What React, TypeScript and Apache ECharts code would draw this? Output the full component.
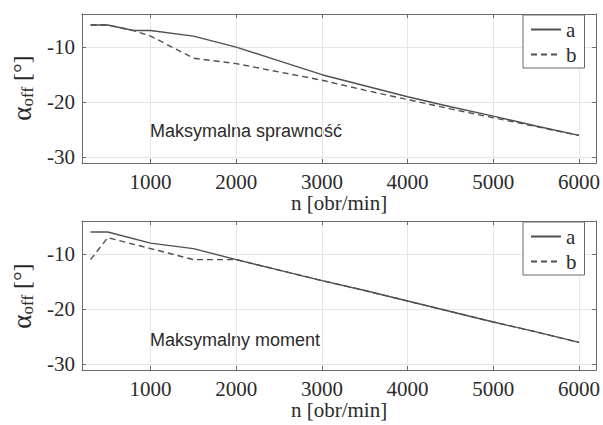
import React, { useEffect, useRef } from "react";
import * as echarts from "echarts";

const topN = [300, 500, 800, 1000, 1500, 2000, 2500, 3000, 3500, 4000, 4500, 5000, 5500, 6000];
const topA = [-6, -6, -7, -7, -8, -10, -12.5, -15, -17, -19, -20.8, -22.5, -24.3, -26];
const topB = [-6, -6, -7, -8, -12, -13, -14.5, -16, -17.8, -19.5, -21.2, -22.8, -24.4, -26];

const botN = [300, 500, 1000, 1500, 2000, 2500, 3000, 3500, 4000, 4500, 5000, 5500, 6000];
const botA = [-6, -6, -8, -9, -11, -12.9, -14.8, -16.6, -18.5, -20.4, -22.3, -24.1, -26];
const botB = [-11, -7, -9, -11, -11, -12.9, -14.8, -16.6, -18.5, -20.4, -22.3, -24.1, -26];

const xTicks = [1000, 2000, 3000, 4000, 5000, 6000];
const yTicks = [-30, -20, -10];
const seriesNames = ["a", "b"];
const xName = "n [obr/min]";
const panelTexts = ["Maksymalna sprawność", "Maksymalny moment"];

const SERIF = "'Liberation Serif', 'Times New Roman', serif";
const SANS = "'Liberation Sans', Arial, sans-serif";
const TXT = "#2b2b2b";
const FRAME = "#6a6a6a";
const GRIDC = "#e6e6e6";
const LINEC = "#505050";

const pair = (xs: number[], ys: number[]) => xs.map((x, i) => [x, ys[i]]);
const plain = (v: number) => String(v);

export default function App() {
  const ref = useRef<HTMLDivElement>(null);
  useEffect(() => {
    if (!ref.current) return;
    const chart = echarts.init(ref.current, null, { renderer: "svg" });
    const grids = [
      { left: 82, top: 14, width: 517, height: 149 },
      { left: 82, top: 221, width: 517, height: 149 },
    ];
    const xAxes: any[] = [];
    const yAxes: any[] = [];
    grids.forEach((_, gi) => {
      xAxes.push({
        type: "value",
        gridIndex: gi,
        min: 200,
        max: 6200,
        position: "bottom",
        name: xName,
        nameLocation: "middle",
        nameGap: 28,
        nameTextStyle: { fontFamily: SERIF, fontSize: 21, color: TXT },
        axisLine: { show: true, onZero: false, lineStyle: { color: FRAME, width: 1 } },
        axisTick: { show: true, inside: true, length: 4, customValues: xTicks, lineStyle: { color: FRAME } },
        axisLabel: { customValues: xTicks, formatter: plain, fontFamily: SERIF, fontSize: 21, color: TXT, margin: 8 },
        splitLine: { show: true, lineStyle: { color: GRIDC, width: 1 } },
      });
      xAxes.push({
        type: "value",
        gridIndex: gi,
        min: 200,
        max: 6200,
        position: "top",
        axisLine: { show: true, onZero: false, lineStyle: { color: FRAME, width: 1 } },
        axisTick: { show: true, inside: true, length: 4, customValues: xTicks, lineStyle: { color: FRAME } },
        axisLabel: { show: false },
        splitLine: { show: false },
      });
      yAxes.push({
        type: "value",
        gridIndex: gi,
        min: -31,
        max: -4,
        position: "left",
        axisLine: { show: true, onZero: false, lineStyle: { color: FRAME, width: 1 } },
        axisTick: { show: true, inside: true, length: 4, customValues: yTicks, lineStyle: { color: FRAME } },
        axisLabel: { customValues: yTicks, formatter: plain, fontFamily: SERIF, fontSize: 21, color: TXT, margin: 7 },
        splitLine: { show: true, lineStyle: { color: GRIDC, width: 1 } },
      });
      yAxes.push({
        type: "value",
        gridIndex: gi,
        min: -31,
        max: -4,
        position: "right",
        axisLine: { show: true, onZero: false, lineStyle: { color: FRAME, width: 1 } },
        axisTick: { show: true, inside: true, length: 4, customValues: yTicks, lineStyle: { color: FRAME } },
        axisLabel: { show: false },
        splitLine: { show: false },
      });
    });

    const mk = (name: string, data: number[][], gi: number, dashed: boolean) => ({
      type: "line",
      name,
      xAxisIndex: gi * 2,
      yAxisIndex: gi * 2,
      data,
      symbol: "none",
      showSymbol: false,
      z: dashed ? 3 : 2,
      lineStyle: { color: LINEC, width: 1.4, type: dashed ? [6, 4] : "solid" },
      itemStyle: { color: LINEC },
    });

    const legendBase = (top: number) => ({
      orient: "vertical",
      left: 523,
      top,
      data: seriesNames,
      itemWidth: 30,
      itemHeight: 14,
      itemGap: 4,
      padding: [4, 8, 3, 7],
      borderColor: FRAME,
      borderWidth: 1,
      backgroundColor: "#ffffff",
      itemStyle: { opacity: 0, borderWidth: 0 },
      textStyle: { fontFamily: SERIF, fontSize: 21, lineHeight: 20, color: TXT, padding: [0, 0, 0, 0] },
      selectedMode: false,
    });

    const yLabel = (cy: number) => ({
      type: "text",
      x: 22,
      y: cy,
      rotation: Math.PI / 2,
      style: {
        text: "{a|α}{s|off} [°]",
        fontFamily: SERIF,
        fontSize: 24,
        fill: TXT,
        align: "center",
        verticalAlign: "middle",
        rich: {
          a: { fontFamily: SERIF, fontSize: 27, fill: TXT, lineHeight: 28 },
          s: { fontFamily: SERIF, fontSize: 17, fill: TXT, verticalAlign: "bottom", lineHeight: 16 },
        },
      },
    });

    chart.setOption({
      animation: false,
      backgroundColor: "#ffffff",
      grid: grids.map((g) => ({ ...g, show: false })),
      xAxis: xAxes,
      yAxis: yAxes,
      legend: [legendBase(15), legendBase(222)],
      series: [
        mk(seriesNames[0], pair(topN, topA), 0, false),
        mk(seriesNames[1], pair(topN, topB), 0, true),
        mk(seriesNames[0], pair(botN, botA), 1, false),
        mk(seriesNames[1], pair(botN, botB), 1, true),
      ],
      graphic: [
        yLabel(88),
        yLabel(296),
        {
          type: "text",
          x: 150,
          y: 140,
          style: { text: panelTexts[0], fontFamily: SANS, fontSize: 18, fill: TXT, verticalAlign: "bottom" },
        },
        {
          type: "text",
          x: 150,
          y: 349,
          style: { text: panelTexts[1], fontFamily: SANS, fontSize: 18, fill: TXT, verticalAlign: "bottom" },
        },
      ],
    });
    return () => chart.dispose();
  }, []);
  return (
    <div
      ref={ref}
      style={{ position: "fixed", left: 0, top: 0, width: 603, height: 425, background: "#fff" }}
    />
  );
}
